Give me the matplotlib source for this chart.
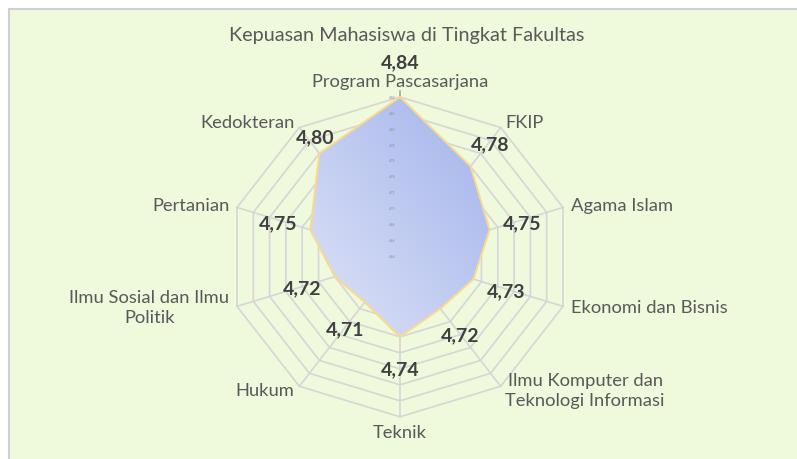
import numpy as np
import matplotlib
matplotlib.use('Agg')
import matplotlib.pyplot as plt
from matplotlib.patches import Polygon, Rectangle
from matplotlib.colors import LinearSegmentedColormap

# data (clockwise from top)
categories = ['Program Pascasarjana', 'FKIP', 'Agama Islam', 'Ekonomi dan Bisnis',
              'Ilmu Komputer dan\nTeknologi Informasi', 'Teknik', 'Hukum',
              'Ilmu Sosial dan Ilmu\nPolitik', 'Pertanian', 'Kedokteran']
values = [4.84, 4.78, 4.75, 4.73, 4.72, 4.74, 4.71, 4.72, 4.75, 4.80]
tick_values = [4.64, 4.66, 4.68, 4.70, 4.72, 4.74, 4.76, 4.78, 4.80, 4.82, 4.84]
title = 'Kepuasan Mahasiswa di Tingkat Fakultas'

# manual nudges of a few data labels (screen pixels, y down), like in the original
label_nudge = {0: (0, -7), 9: (16, 6)}

plt.rcParams['font.family'] = ['Lato', 'DejaVu Sans']

W, H = 797, 459
fig = plt.figure(figsize=(W / 100, H / 100), dpi=100)
fig.patch.set_facecolor('white')

# green chart area with grey border (top/left visible)
bg = Rectangle((8.5 / W, -0.05), 1.2, (H - 8.5) / H + 0.05, transform=fig.transFigure,
               facecolor='#EFF9DC', edgecolor='#D0D0D0', lw=1.5, zorder=-1)
fig.patches.append(bg)

# radar geometry (pixel centre and radii, image is slightly stretched)
cx, cy = 400, 256.9
rx, ry = 171.4, 159.9
ax = fig.add_axes([0, 0, 1, 1])
ax.set_facecolor('none')
ax.axis('off')

vmin, vmax = tick_values[0], tick_values[-1]
n = len(categories)
theta = np.arange(n) * 2 * np.pi / n
sx, cyy = np.sin(theta), np.cos(theta)

def rad(v):
    return (v - vmin) / (vmax - vmin)

# grid rings and spokes
grid_col = '#D6D6D6'
for t in tick_values[1:]:
    r = rad(t)
    xs = np.append(r * sx, r * sx[0])
    ys = np.append(r * cyy, r * cyy[0])
    ax.plot(xs, ys, color=grid_col, lw=1.2, zorder=1)
for i in range(n):
    ax.plot([0, sx[i]], [0, cyy[i]], color=grid_col, lw=1.2, zorder=1)
ax.plot([0, 0], [0, 1.04], color='#A6A6A6', lw=1.2, zorder=1)

# series polygon with diagonal gradient
r_vals = np.array([rad(v) for v in values])
px, py = r_vals * sx, r_vals * cyy
poly = Polygon(np.column_stack([px, py]), closed=True, facecolor='none',
               edgecolor='#FAD98A', lw=1.4, zorder=3)
ax.add_patch(poly)
gx = np.linspace(0, 1, 200)
gy = np.linspace(0, 1, 200)
G = (gx[None, :] + gy[::-1, None]) / 2
cmap = LinearSegmentedColormap.from_list('g', ['#DEE3F7', '#A2B3EC'])
im = ax.imshow(G, extent=[px.min(), px.max(), py.min(), py.max()], cmap=cmap,
               aspect='auto', zorder=2, interpolation='bilinear')
clip = Polygon(np.column_stack([px, py]), closed=True, transform=ax.transData)
im.set_clip_path(clip)

# tiny value-axis labels
for t in tick_values:
    ax.text(-7.5 / rx, rad(t), f'{t:.2f}'.replace('.', ','), fontsize=2.3,
            color='#8C8C8C', ha='center', va='center', zorder=4)

# data labels
for i, v in enumerate(values):
    nx, ny = label_nudge.get(i, (0, 0))
    ax.annotate(f'{v:.2f}'.replace('.', ','), (px[i], py[i]),
                xytext=(sx[i] * 34 + nx, cyy[i] * 30 - 3 - ny), textcoords='offset pixels',
                ha='center', va='center', fontsize=14, fontweight='bold',
                color='#404040', zorder=5)

# category labels
for i, lab in enumerate(categories):
    if abs(sx[i]) < 1e-6:
        ha = 'center'
        va = 'bottom' if cyy[i] > 0 else 'top'
        off = (0, 7 if cyy[i] > 0 else -8)
    else:
        ha = 'left' if sx[i] > 0 else 'right'
        va = 'center'
        off = (sx[i] * 8, cyy[i] * 6)
    ax.annotate(lab, (sx[i], cyy[i]), xytext=off, textcoords='offset pixels',
                ha=ha, va=va, fontsize=13.2, color='#595959', multialignment='center',
                linespacing=1.3, zorder=5)

ax.set_xlim(-cx / rx, (W - cx) / rx)
ax.set_ylim(-(H - cy) / ry, cy / ry)

fig.text(407 / W, 1 - 35 / H, title, ha='center', va='center', fontsize=14.3,
         color='#595959')

fig.savefig('out.png', dpi=100)
